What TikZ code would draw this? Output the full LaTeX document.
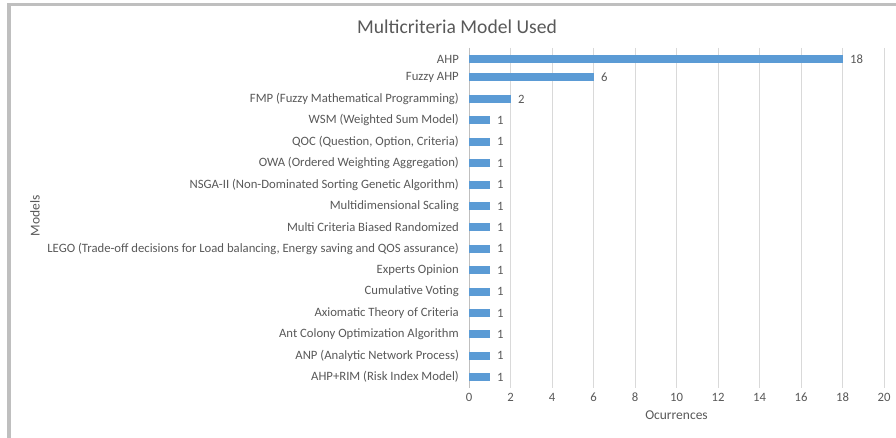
\documentclass[tikz,border=0pt]{standalone}
\usepackage{fontspec}
\setmainfont{Carlito}
\usepackage{xcolor}
\usetikzlibrary{positioning, calc}
\definecolor{barblue}{HTML}{5B9BD5}
\definecolor{txtgray}{HTML}{595959}
\definecolor{gridgray}{HTML}{D9D9D9}
\definecolor{framegray}{HTML}{BFBFBF}
\tikzset{
  lbl/.style={anchor=east, inner sep=0pt, text=txtgray, font=\fontsize{12.7}{14}\selectfont},
  val/.style={anchor=west, inner sep=0pt, text=txtgray, font=\fontsize{12.7}{14}\selectfont},
  tick/.style={inner sep=0pt, text=txtgray, font=\fontsize{12.7}{14}\selectfont},
  axtitle/.style={inner sep=0pt, text=txtgray, font=\fontsize{13.5}{15}\selectfont},
  bar/.style={fill=barblue}
}

\begin{document}
\begin{tikzpicture}[x=1pt,y=-1pt]
\useasboundingbox (0,0) rectangle (896,438);
\fill[white] (0,0) rectangle (896,438);
% frame of the chart
\draw[framegray, line width=3.5pt] (9,438) |- (896,4.3);
% title
\node[text=txtgray, font=\fontsize{19.6}{22}\selectfont] (title) at (457,27) {Multicriteria Model Used};
% grid, one line every 2 occurrences
\foreach \k in {1,...,10}
  \draw[gridgray, line width=0.8pt] ({469+41.5*\k},48) -- ({469+41.5*\k},388);
\draw[framegray, line width=0.8pt] (469,48) -- (469,388);
\foreach \k in {0,...,10}
  \node[tick] (t\k) at ({469+41.5*\k},397) {\pgfmathparse{int(2*\k)}\pgfmathresult};
\node[axtitle] (xtitle) at (676.5,415) {Ocurrences};
\node[axtitle, rotate=90] (ytitle) at (35,216) {Models};
% bars
\fill[bar] (469,55) rectangle (842.5,63);
\node[lbl] (m1) at (459,59) {AHP};
\node[val] (v1) at (850,59) {18};
\fill[bar] (469,73) rectangle (593.5,81);
\node[lbl] (m2) at (459,77) {Fuzzy AHP};
\node[val] (v2) at (601,77) {6};
\fill[bar] (469,95) rectangle (510.5,103);
\node[lbl] (m3) at (459,99) {FMP (Fuzzy Mathematical Programming)};
\node[val] (v3) at (518,99) {2};
\fill[bar] (469,116.4) rectangle (489.75,124.4);
\node[lbl] (m4) at (459,120.4) {WSM (Weighted Sum Model)};
\node[val] (v4) at (497,120.4) {1};
\fill[bar] (469,137.8) rectangle (489.75,145.8);
\node[lbl] (m5) at (459,141.8) {QOC (Question, Option, Criteria)};
\node[val] (v5) at (497,141.8) {1};
\fill[bar] (469,159.2) rectangle (489.75,167.2);
\node[lbl] (m6) at (459,163.2) {OWA (Ordered Weighting Aggregation)};
\node[val] (v6) at (497,163.2) {1};
\fill[bar] (469,180.6) rectangle (489.75,188.6);
\node[lbl] (m7) at (459,184.6) {NSGA-II (Non-Dominated Sorting Genetic Algorithm)};
\node[val] (v7) at (497,184.6) {1};
\fill[bar] (469,202) rectangle (489.75,210);
\node[lbl] (m8) at (459,206) {Multidimensional Scaling};
\node[val] (v8) at (497,206) {1};
\fill[bar] (469,223.4) rectangle (489.75,231.4);
\node[lbl] (m9) at (459,227.4) {Multi Criteria Biased Randomized};
\node[val] (v9) at (497,227.4) {1};
\fill[bar] (469,244.8) rectangle (489.75,252.8);
\node[lbl] (m10) at (459,248.8) {LEGO (Trade-off decisions for Load balancing, Energy saving and QOS assurance)};
\node[val] (v10) at (497,248.8) {1};
\fill[bar] (469,266.2) rectangle (489.75,274.2);
\node[lbl] (m11) at (459,270.2) {Experts Opinion};
\node[val] (v11) at (497,270.2) {1};
\fill[bar] (469,287.6) rectangle (489.75,295.6);
\node[lbl] (m12) at (459,291.6) {Cumulative Voting};
\node[val] (v12) at (497,291.6) {1};
\fill[bar] (469,309) rectangle (489.75,317);
\node[lbl] (m13) at (459,313) {Axiomatic Theory of Criteria};
\node[val] (v13) at (497,313) {1};
\fill[bar] (469,330.4) rectangle (489.75,338.4);
\node[lbl] (m14) at (459,334.4) {Ant Colony Optimization Algorithm};
\node[val] (v14) at (497,334.4) {1};
\fill[bar] (469,351.8) rectangle (489.75,359.8);
\node[lbl] (m15) at (459,355.8) {ANP (Analytic Network Process)};
\node[val] (v15) at (497,355.8) {1};
\fill[bar] (469,373.2) rectangle (489.75,381.2);
\node[lbl] (m16) at (459,377.2) {AHP+RIM (Risk Index Model)};
\node[val] (v16) at (497,377.2) {1};
\end{tikzpicture}
\end{document}
